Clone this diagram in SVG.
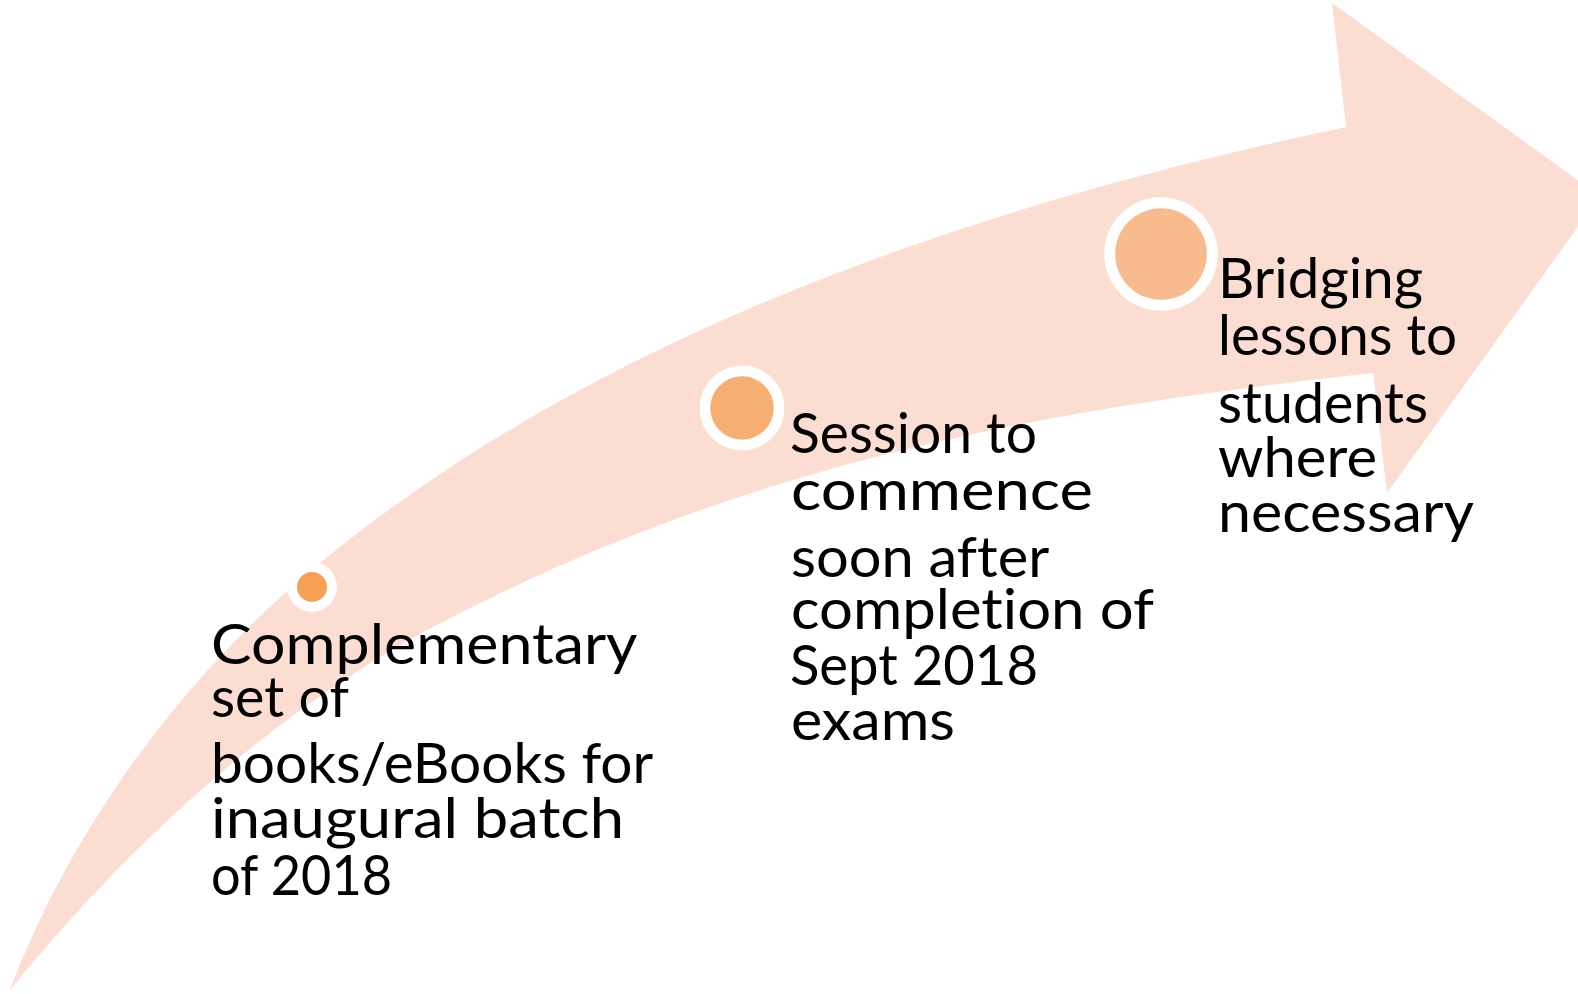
<svg xmlns="http://www.w3.org/2000/svg" width="1578" height="994" viewBox="0 0 1578 994">
<style>
.lbl{font-family:Lato,"Liberation Sans",Arial,sans-serif;font-weight:400;font-size:57px;fill:#000;font-variant-ligatures:none}
.ring{fill:#fff}
</style>
<rect width="1578" height="994" fill="#fff"/>
<g id="connectors">
<path id="arrow" d="M10,990 C70,831 181,677 320,563 C606,328 984,204 1346,127 L1332,3 L1600,196 L1387,493 L1373,373 C1055,408 751,459 433,627 C269,714 127,847 10,990 Z" fill="#FCDDD1"/>
</g>
<g id="node1">
<circle class="ring" cx="312" cy="587" r="25"/>
<circle cx="312" cy="587" r="15" fill="#F6A055"/>
<text class="lbl">
<tspan x="211" y="664" textLength="425" lengthAdjust="spacingAndGlyphs">Complementary</tspan>
<tspan x="211" y="717" textLength="137" lengthAdjust="spacingAndGlyphs">set of</tspan>
<tspan x="211" y="783" textLength="441" lengthAdjust="spacingAndGlyphs">books/eBooks for</tspan>
<tspan x="211" y="838" textLength="413" lengthAdjust="spacingAndGlyphs">inaugural batch</tspan>
<tspan x="211" y="895" textLength="181" lengthAdjust="spacingAndGlyphs">of 2018</tspan>
</text>
</g>
<g id="node2">
<circle class="ring" cx="742" cy="408" r="42.5"/>
<circle cx="742" cy="408" r="31.7" fill="#F7AE72"/>
<text class="lbl">
<tspan x="790" y="453" textLength="247" lengthAdjust="spacingAndGlyphs">Session to</tspan>
<tspan x="791" y="510" textLength="302" lengthAdjust="spacingAndGlyphs">commence</tspan>
<tspan x="791" y="577" textLength="257" lengthAdjust="spacingAndGlyphs">soon after</tspan>
<tspan x="791" y="629" textLength="362" lengthAdjust="spacingAndGlyphs">completion of</tspan>
<tspan x="790" y="685" textLength="248" lengthAdjust="spacingAndGlyphs">Sept 2018</tspan>
<tspan x="791" y="740" textLength="164" lengthAdjust="spacingAndGlyphs">exams</tspan>
</text>
</g>
<g id="node3">
<circle class="ring" cx="1161" cy="254" r="56.8"/>
<circle cx="1161" cy="254" r="45.8" fill="#F8BB8D"/>
<text class="lbl">
<tspan x="1218" y="298" textLength="205" lengthAdjust="spacingAndGlyphs">Bridging</tspan>
<tspan x="1218" y="355" textLength="239" lengthAdjust="spacingAndGlyphs">lessons to</tspan>
<tspan x="1218" y="423" textLength="210" lengthAdjust="spacingAndGlyphs">students</tspan>
<tspan x="1218" y="477" textLength="159" lengthAdjust="spacingAndGlyphs">where</tspan>
<tspan x="1218" y="532" textLength="256" lengthAdjust="spacingAndGlyphs">necessary</tspan>
</text>
</g>
</svg>
